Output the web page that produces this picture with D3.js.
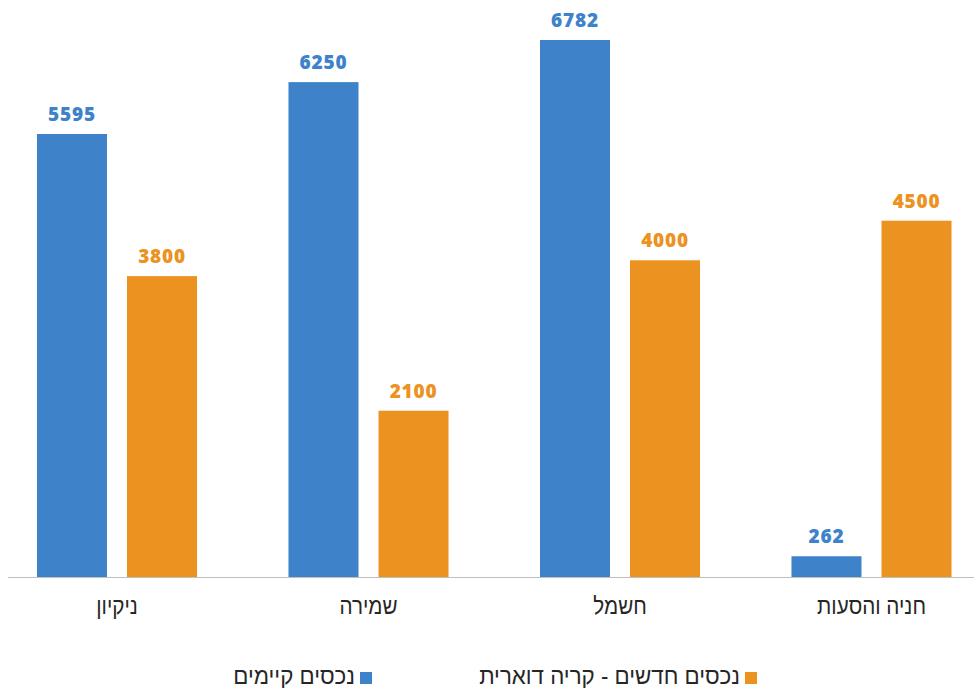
<!DOCTYPE html>
<html>
<head>
<meta charset="utf-8">
<script src="https://cdn.jsdelivr.net/npm/d3@7/dist/d3.min.js"></script>
<style>
  html, body { margin: 0; padding: 0; background: #fff; }
</style>
</head>
<body>
<div id="chart"></div>
<script>
const categories = ["ניקיון", "שמירה", "חשמל", "חניה והסעות"];
const seriesNames = ["נכסים קיימים", "נכסים חדשים - קריה דוארית"];
const existing = [5595, 6250, 6782, 262];
const newAssets = [3800, 2100, 4000, 4500];

const width = 974;
const height = 688;
const colors = ["#3e82ca", "#ec9220"];
const baseline = 577;
const labelFont = "'Liberation Sans', Arial, sans-serif";
const valueFont = "'Open Sans', Roboto, sans-serif";
const narrow = 0.86; // reference hebrew font is condensed
const legendNarrow = 0.93;

const svg = d3.select("#chart")
  .append("svg")
  .attr("width", width)
  .attr("height", height);

const x0 = d3.scaleBand()
  .domain(categories)
  .range([-8.75, 997.25])
  .padding(0);

const x1 = d3.scaleBand()
  .domain(seriesNames)
  .range([0, x0.bandwidth()])
  .paddingInner(2 / 9)
  .paddingOuter(0.508);

const y = d3.scaleLinear()
  .domain([0, 6782])
  .range([baseline, 40]);

const rows = categories.map((c, i) => ({
  category: c,
  values: [existing[i], newAssets[i]]
}));

const groups = svg.selectAll("g.group")
  .data(rows)
  .join("g")
  .attr("class", "group")
  .attr("transform", d => `translate(${x0(d.category)},0)`);

groups.selectAll("rect")
  .data(d => d.values.map((v, j) => ({ name: seriesNames[j], value: v, j })))
  .join("rect")
  .attr("x", d => x1(d.name))
  .attr("y", d => y(d.value))
  .attr("width", x1.bandwidth())
  .attr("height", d => baseline - y(d.value))
  .attr("fill", d => colors[d.j]);

// value labels above bars
groups.selectAll("text.value")
  .data(d => d.values.map((v, j) => ({ name: seriesNames[j], value: v, j })))
  .join("text")
  .attr("class", "value")
  .attr("x", d => x1(d.name) + x1.bandwidth() / 2)
  .attr("y", d => y(d.value) - 13)
  .attr("text-anchor", "middle")
  .attr("font-family", valueFont)
  .attr("font-weight", 800)
  .attr("font-size", 19)
  .attr("letter-spacing", 0.8)
  .attr("fill", d => colors[d.j])
  .text(d => d.value);

// axis line
svg.append("line")
  .attr("x1", 8)
  .attr("x2", width)
  .attr("y1", baseline + 0.5)
  .attr("y2", baseline + 0.5)
  .attr("stroke", "#bfbfbf")
  .attr("stroke-width", 1);

// category labels
svg.selectAll("text.cat")
  .data(categories)
  .join("text")
  .attr("class", "cat")
  .attr("transform", d => `translate(${x0(d) + x0.bandwidth() / 2},614) scale(${narrow},1)`)
  .attr("text-anchor", "middle")
  .attr("font-family", labelFont)
  .attr("font-size", 24)
  .attr("fill", "#262626")
  .text(d => d);

// legend
const legendRight = [372, 757];
const legend = svg.selectAll("g.legend")
  .data(seriesNames)
  .join("g")
  .attr("class", "legend")
  .attr("transform", (d, i) => `translate(${legendRight[i]},0)`);

legend.append("rect")
  .attr("x", -12)
  .attr("y", 672)
  .attr("width", 12)
  .attr("height", 12)
  .attr("fill", (d, i) => colors[i]);

legend.append("text")
  .attr("transform", `translate(-17,684) scale(${legendNarrow},1)`)
  .attr("text-anchor", "end")
  .attr("font-family", labelFont)
  .attr("font-size", 24)
  .attr("fill", "#262626")
  .text(d => d);
</script>
</body>
</html>
